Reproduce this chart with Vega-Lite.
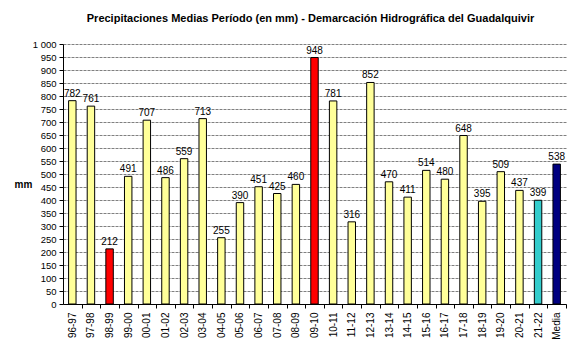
{
  "$schema": "https://vega.github.io/schema/vega-lite/v6.json",
  "autosize": "none",
  "width": 503,
  "height": 260,
  "padding": {"left": 63, "top": 44, "right": 18, "bottom": 55},
  "background": "white",
  "title": {
    "text": "Precipitaciones Medias Período (en mm) - Demarcación Hidrográfica del Guadalquivir",
    "font": "Liberation Sans",
    "fontSize": 11,
    "fontWeight": "bold",
    "color": "black",
    "anchor": "middle",
    "offset": 15,
    "dx": -4
  },
  "data": {
    "values": [
      {"periodo": "96-97", "mm": 782, "tipo": "normal"},
      {"periodo": "97-98", "mm": 761, "tipo": "normal"},
      {"periodo": "98-99", "mm": 212, "tipo": "extremo"},
      {"periodo": "99-00", "mm": 491, "tipo": "normal"},
      {"periodo": "00-01", "mm": 707, "tipo": "normal"},
      {"periodo": "01-02", "mm": 486, "tipo": "normal"},
      {"periodo": "02-03", "mm": 559, "tipo": "normal"},
      {"periodo": "03-04", "mm": 713, "tipo": "normal"},
      {"periodo": "04-05", "mm": 255, "tipo": "normal"},
      {"periodo": "05-06", "mm": 390, "tipo": "normal"},
      {"periodo": "06-07", "mm": 451, "tipo": "normal"},
      {"periodo": "07-08", "mm": 425, "tipo": "normal"},
      {"periodo": "08-09", "mm": 460, "tipo": "normal"},
      {"periodo": "09-10", "mm": 948, "tipo": "extremo"},
      {"periodo": "10-11", "mm": 781, "tipo": "normal"},
      {"periodo": "11-12", "mm": 316, "tipo": "normal"},
      {"periodo": "12-13", "mm": 852, "tipo": "normal"},
      {"periodo": "13-14", "mm": 470, "tipo": "normal"},
      {"periodo": "14-15", "mm": 411, "tipo": "normal"},
      {"periodo": "15-16", "mm": 514, "tipo": "normal"},
      {"periodo": "16-17", "mm": 480, "tipo": "normal"},
      {"periodo": "17-18", "mm": 648, "tipo": "normal"},
      {"periodo": "18-19", "mm": 395, "tipo": "normal"},
      {"periodo": "19-20", "mm": 509, "tipo": "normal"},
      {"periodo": "20-21", "mm": 437, "tipo": "normal"},
      {"periodo": "21-22", "mm": 399, "tipo": "actual"},
      {"periodo": "Media", "mm": 538, "tipo": "media"}
    ]
  },
  "encoding": {
    "x": {
      "field": "periodo",
      "type": "nominal",
      "sort": null,
      "scale": {"paddingInner": 0.6, "paddingOuter": 0.3},
      "axis": {
        "title": null,
        "labelAngle": -90,
        "labelAlign": "right",
        "labelBaseline": "middle",
        "labelFont": "Liberation Sans",
        "labelFontSize": 10,
        "labelColor": "black",
        "labelPadding": 4,
        "tickOffset": 9.31,
        "labelOffset": -9.31,
        "tickColor": "black",
        "tickSize": 4,
        "domainColor": "black",
        "grid": false
      }
    },
    "y": {
      "field": "mm",
      "type": "quantitative",
      "scale": {"domain": [0, 1000]},
      "axis": {
        "values": [0, 50, 100, 150, 200, 250, 300, 350, 400, 450, 500, 550, 600, 650, 700, 750, 800, 850, 900, 950, 1000],
        "labelExpr": "datum.value == 1000 ? '1 000' : datum.label",
        "labelFont": "Liberation Sans",
        "labelFontSize": 9.5,
        "labelColor": "black",
        "labelPadding": 3,
        "tickColor": "black",
        "tickSize": 4,
        "domainColor": "black",
        "grid": true,
        "gridColor": "#808080",
        "gridDash": [3, 1],
        "gridWidth": 1,
        "title": "mm",
        "titleAngle": 0,
        "titleX": -40,
        "titleY": 140,
        "titleAlign": "center",
        "titleBaseline": "middle",
        "titleFont": "Liberation Sans",
        "titleFontSize": 10,
        "titleFontWeight": "bold",
        "titleColor": "black"
      }
    }
  },
  "layer": [
    {
      "mark": {"type": "bar", "stroke": "black", "strokeWidth": 1},
      "encoding": {
        "color": {
          "field": "tipo",
          "type": "nominal",
          "scale": {"domain": ["normal", "extremo", "actual", "media"], "range": ["#FFFF99", "#FF0000", "#33CCCC", "#000080"]},
          "legend": null
        }
      }
    },
    {
      "mark": {"type": "text", "dy": -7, "font": "Liberation Sans", "fontSize": 10, "color": "black"},
      "encoding": {"text": {"field": "mm", "type": "quantitative"}}
    }
  ],
  "config": {"view": {"stroke": null}}
}
